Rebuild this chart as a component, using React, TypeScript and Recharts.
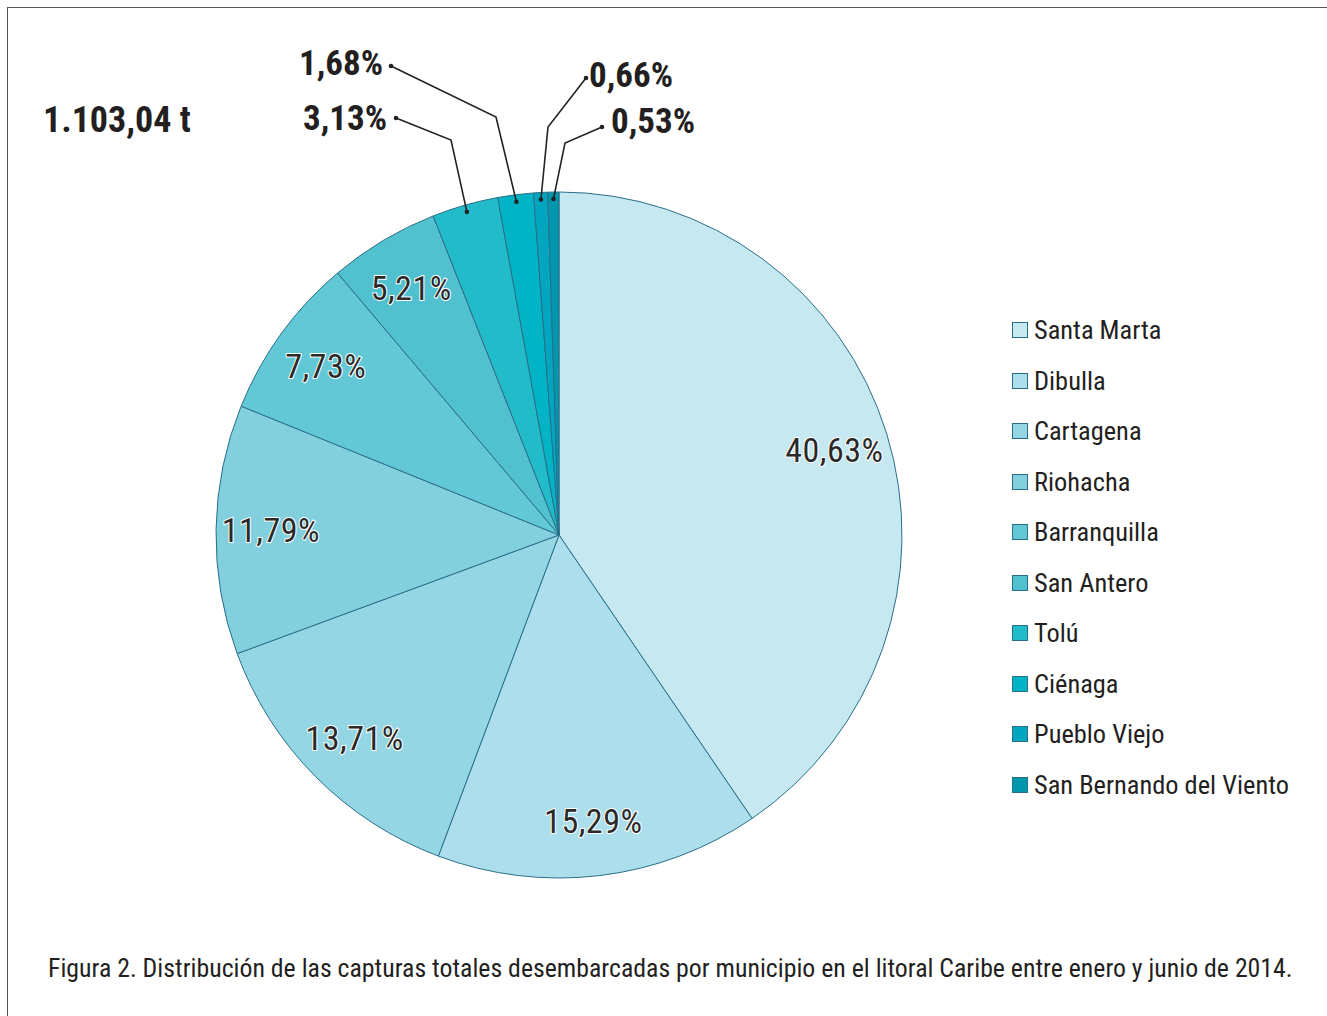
import React from 'react';
import { PieChart, Pie, Cell, Legend } from 'recharts';

const municipios = [
    'Santa Marta',
    'Dibulla',
    'Cartagena',
    'Riohacha',
    'Barranquilla',
    'San Antero',
    'Tolú',
    'Ciénaga',
    'Pueblo Viejo',
    'San Bernando del Viento',
];

const porcentajes = [40.63, 15.29, 13.71, 11.79, 7.73, 5.21, 3.13, 1.68, 0.66, 0.53];

const colores = [
    '#c6e8f1',
    '#acdeeb',
    '#95d6e4',
    '#82cfdd',
    '#63c8d6',
    '#52c1cf',
    '#22bbca',
    '#00b4c5',
    '#00a6bf',
    '#0096ab',
];

const total = '1.103,04 t';
const caption =
    'Figura 2. Distribución de las capturas totales desembarcadas por municipio en el litoral Caribe entre enero y junio de 2014.';

// callouts for the thin slices (offsets from the pie centre)
const callouts: Record<number, { elbow: [number, number]; end: [number, number]; anchor: 'start' | 'end'; dx: number; dy: number }> = {
    6: { elbow: [-108, -395], end: [-163, -417], anchor: 'end', dx: -9, dy: 0 },
    7: { elbow: [-63, -418], end: [-168, -469], anchor: 'end', dx: -8, dy: -3 },
    8: { elbow: [-11, -408], end: [27, -457], anchor: 'start', dx: 3, dy: -3 },
    9: { elbow: [6, -392], end: [43, -408], anchor: 'start', dx: 9, dy: -6 },
};

const data = municipios.map((name, i) => ({ name, value: porcentajes[i] }));

const FONT = '"Liberation Sans Narrow", "Roboto Condensed", "DejaVu Sans Condensed", Arial, sans-serif';
const RAD = Math.PI / 180;

const fmt = (v: number) => v.toFixed(2).replace('.', ',') + '%';

const renderLabel = (props: any) => {
    const { cx, cy, midAngle, outerRadius, index, value } = props;
    const c = callouts[index];
    if (c) {
        const r = outerRadius - 7;
        const ax = cx + r * Math.cos(-midAngle * RAD);
        const ay = cy + r * Math.sin(-midAngle * RAD);
        const ex = cx + c.elbow[0];
        const ey = cy + c.elbow[1];
        const tx = cx + c.end[0];
        const ty = cy + c.end[1];
        return (
            <g>
                <polyline points={`${ax},${ay} ${ex},${ey} ${tx},${ty}`} fill="none" stroke="#222" strokeWidth={1.6} />
                <circle cx={ax} cy={ay} r={2.3} fill="#222" />
                <circle cx={tx} cy={ty} r={2.3} fill="#222" />
                <text
                    x={tx + c.dx}
                    y={ty + c.dy}
                    textAnchor={c.anchor}
                    dominantBaseline="central"
                    fontFamily={FONT}
                    fontWeight="bold"
                    fontSize={35}
                    fill="#231f20"
                >
                    {fmt(value)}
                </text>
            </g>
        );
    }
    const r = outerRadius * 0.84;
    const x = cx + r * Math.cos(-midAngle * RAD);
    const y = cy + r * Math.sin(-midAngle * RAD);
    return (
        <text
            x={x}
            y={y}
            textAnchor="middle"
            dominantBaseline="central"
            fontFamily={FONT}
            fontSize={34}
            fill="#2a2a2a"
            stroke="#ffffff"
            strokeWidth={2}
            paintOrder="stroke"
            letterSpacing={0.5}
        >
            {fmt(value)}
        </text>
    );
};

const renderLegend = () => (
    <div style={{ fontFamily: FONT, fontSize: 26.4, color: '#231f20' }}>
        {municipios.map((m, i) => (
            <div key={m} style={{ display: 'flex', alignItems: 'center', height: 50.5 }}>
                <span
                    style={{
                        display: 'inline-block',
                        width: 14,
                        height: 14,
                        background: colores[i],
                        border: '1.5px solid #2a6f8a',
                        marginRight: 6,
                    }}
                />
                <span>{m}</span>
            </div>
        ))}
    </div>
);

export default function App() {
    return (
        <div style={{ position: 'fixed', left: 0, top: 0, width: 1327, height: 1016, overflow: 'hidden', background: '#fff' }}>
            <div
                style={{
                    position: 'absolute',
                    left: 7,
                    top: 7,
                    width: 1340,
                    height: 1030,
                    borderTop: '1.5px solid #555',
                    borderLeft: '1.5px solid #555',
                }}
            />
            <div
                style={{
                    position: 'absolute',
                    left: 43,
                    top: 99,
                    fontFamily: FONT,
                    fontWeight: 'bold',
                    fontSize: 36,
                    color: '#231f20',
                }}
            >
                {total}
            </div>
            <div style={{ position: 'absolute', left: 0, top: 0 }}>
                <PieChart width={1327} height={1016} margin={{ top: 0, right: 0, bottom: 0, left: 0 }}>
                    <Pie
                        data={data}
                        dataKey="value"
                        nameKey="name"
                        cx={559}
                        cy={535}
                        outerRadius={343}
                        startAngle={90}
                        endAngle={-270}
                        stroke="#2a6f8a"
                        strokeWidth={1}
                        label={renderLabel}
                        labelLine={false}
                        isAnimationActive={false}
                    >
                        {data.map((d, i) => (
                            <Cell key={d.name} fill={colores[i]} />
                        ))}
                    </Pie>
                    <Legend content={renderLegend} wrapperStyle={{ position: 'absolute', left: 1012, top: 305, width: 310 }} />
                </PieChart>
            </div>
            <div
                style={{
                    position: 'absolute',
                    left: 48,
                    top: 953,
                    fontFamily: FONT,
                    fontSize: 25.8,
                    color: '#231f20',
                    whiteSpace: 'nowrap',
                }}
            >
                {caption}
            </div>
        </div>
    );
}
